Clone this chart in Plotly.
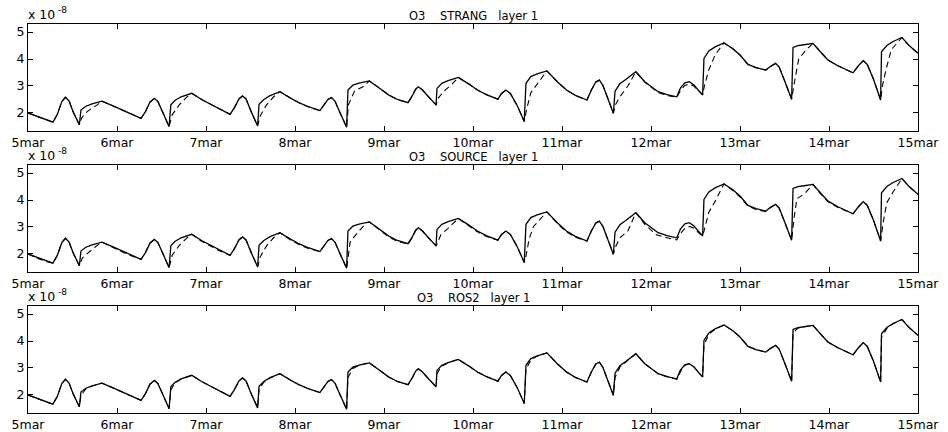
import plotly.graph_objects as go

# ---------------- data ----------------
DAY_TICKS = [5, 6, 7, 8, 9, 10, 11, 12, 13, 14, 15]
DAY_LABELS = ["5mar", "6mar", "7mar", "8mar", "9mar", "10mar", "11mar",
              "12mar", "13mar", "14mar", "15mar"]
Y_TICKS = [2, 3, 4, 5]
Y_LABELS = ["2", "3", "4", "5"]
PANEL_TITLES = ["O3\u00a0\u00a0\u00a0\u00a0STRANG\u00a0\u00a0\u00a0layer 1",
                "O3\u00a0\u00a0\u00a0\u00a0SOURCE\u00a0\u00a0\u00a0layer 1",
                "O3\u00a0\u00a0\u00a0\u00a0ROS2\u00a0\u00a0\u00a0layer 1"]
SCALE_BASE = "x 10"
SCALE_EXP = "-8"

# reference solution (solid line, same in all panels), units 1e-8
REF_T = [5.00, 5.10, 5.20, 5.28, 5.33, 5.38, 5.42, 5.46, 5.51, 5.577,
         5.595, 5.65, 5.72, 5.83, 5.95, 6.05, 6.15, 6.27, 6.32, 6.37,
         6.42, 6.46, 6.52, 6.585, 6.605, 6.65, 6.72, 6.84, 6.95, 7.05,
         7.15, 7.27, 7.32, 7.37, 7.41, 7.45, 7.51, 7.58, 7.596, 7.65,
         7.72, 7.83, 7.95, 8.05, 8.15, 8.28, 8.33, 8.37, 8.41, 8.45,
         8.51, 8.58, 8.595, 8.65, 8.72, 8.835, 8.95, 9.05, 9.15, 9.27,
         9.32, 9.355, 9.385, 9.43, 9.50, 9.585, 9.595, 9.65, 9.72, 9.835,
         9.95, 10.05, 10.15, 10.28, 10.32, 10.37, 10.42, 10.50, 10.576, 10.595,
         10.65, 10.72, 10.83, 10.95, 11.05, 11.15, 11.28, 11.33, 11.38, 11.42,
         11.46, 11.52, 11.577, 11.596, 11.65, 11.72, 11.83, 11.93, 12.08, 12.18,
         12.29, 12.33, 12.38, 12.43, 12.48, 12.53, 12.58, 12.595, 12.65, 12.72,
         12.82, 12.92, 13.00, 13.09, 13.18, 13.29, 13.34, 13.40, 13.44, 13.50,
         13.58, 13.596, 13.65, 13.72, 13.82, 13.90, 13.99, 14.10, 14.27, 14.33,
         14.385, 14.43, 14.50, 14.58, 14.59, 14.65, 14.72, 14.82, 14.90, 15.00]
REF_V = [2.00, 1.87, 1.75, 1.66, 1.95, 2.42, 2.58, 2.45, 2.02, 1.56,
         2.11, 2.25, 2.34, 2.44, 2.27, 2.12, 1.97, 1.80, 2.05, 2.40,
         2.54, 2.42, 1.98, 1.49, 2.30, 2.46, 2.60, 2.73, 2.50, 2.32,
         2.15, 1.95, 2.20, 2.52, 2.63, 2.52, 2.03, 1.52, 2.32, 2.50,
         2.64, 2.79, 2.55, 2.37, 2.23, 2.09, 2.32, 2.50, 2.57, 2.43,
         1.98, 1.47, 2.85, 3.03, 3.11, 3.19, 2.92, 2.67, 2.50, 2.38,
         2.65, 2.88, 2.97, 2.86, 2.60, 2.30, 2.91, 3.10, 3.20, 3.32,
         3.08, 2.85, 2.68, 2.51, 2.72, 2.85, 2.72, 2.25, 1.68, 3.10,
         3.35, 3.45, 3.56, 3.15, 2.85, 2.65, 2.48, 2.85, 3.15, 3.22,
         3.02, 2.50, 1.99, 2.81, 3.08, 3.25, 3.53, 3.16, 2.79, 2.68,
         2.60, 2.92, 3.12, 3.16, 3.05, 2.85, 2.67, 4.02, 4.30, 4.45,
         4.60, 4.38, 4.15, 3.80, 3.68, 3.59, 3.72, 3.84, 3.70, 3.20,
         2.51, 4.43, 4.50, 4.53, 4.58, 4.28, 3.96, 3.75, 3.49, 3.75,
         3.94, 3.80, 3.25, 2.48, 4.27, 4.50, 4.65, 4.80, 4.50, 4.21]

# STRANG splitting (dashed, panel 1)
STRANG_T = [5.00, 5.10, 5.20, 5.28, 5.33, 5.38, 5.42, 5.46, 5.51, 5.577,
            5.60, 5.64, 5.70, 5.77, 5.83, 5.95, 6.05, 6.15, 6.27, 6.32,
            6.37, 6.42, 6.46, 6.52, 6.585, 6.62, 6.70, 6.78, 6.84, 6.95,
            7.05, 7.15, 7.27, 7.32, 7.37, 7.41, 7.45, 7.51, 7.58, 7.61,
            7.68, 7.76, 7.83, 7.95, 8.05, 8.15, 8.28, 8.33, 8.37, 8.41,
            8.45, 8.51, 8.58, 8.60, 8.67, 8.77, 8.835, 8.95, 9.05, 9.15,
            9.27, 9.32, 9.355, 9.385, 9.43, 9.50, 9.585, 9.61, 9.67, 9.76,
            9.835, 9.95, 10.05, 10.15, 10.28, 10.32, 10.37, 10.42, 10.50, 10.576,
            10.60, 10.65, 10.74, 10.83, 10.95, 11.05, 11.15, 11.28, 11.33, 11.38,
            11.42, 11.46, 11.52, 11.577, 11.60, 11.65, 11.74, 11.83, 11.93, 12.08,
            12.18, 12.29, 12.33, 12.38, 12.43, 12.48, 12.53, 12.58, 12.60, 12.65,
            12.72, 12.82, 12.92, 13.00, 13.09, 13.18, 13.29, 13.34, 13.40, 13.44,
            13.50, 13.58, 13.62, 13.66, 13.74, 13.82, 13.90, 13.99, 14.10, 14.27,
            14.33, 14.385, 14.43, 14.50, 14.58, 14.60, 14.64, 14.70, 14.82, 14.90,
            15.00]
STRANG_V = [2.00, 1.87, 1.75, 1.66, 1.95, 2.42, 2.58, 2.45, 2.02, 1.56,
            1.80, 1.98, 2.14, 2.28, 2.44, 2.27, 2.12, 1.97, 1.80, 2.05,
            2.40, 2.54, 2.42, 1.98, 1.49, 1.93, 2.30, 2.58, 2.73, 2.50,
            2.32, 2.15, 1.95, 2.20, 2.52, 2.63, 2.52, 2.03, 1.52, 1.90,
            2.30, 2.60, 2.79, 2.55, 2.37, 2.23, 2.09, 2.32, 2.50, 2.57,
            2.43, 1.98, 1.47, 2.30, 2.82, 2.98, 3.19, 2.92, 2.67, 2.50,
            2.38, 2.65, 2.88, 2.97, 2.86, 2.60, 2.30, 2.55, 2.80, 3.05,
            3.32, 3.08, 2.85, 2.68, 2.51, 2.72, 2.85, 2.72, 2.25, 1.68,
            2.10, 2.75, 3.15, 3.56, 3.15, 2.85, 2.65, 2.48, 2.85, 3.15,
            3.22, 3.02, 2.50, 1.99, 2.30, 2.60, 3.00, 3.53, 3.14, 2.76,
            2.65, 2.58, 2.82, 3.02, 3.07, 3.00, 2.83, 2.67, 3.00, 3.60,
            4.15, 4.60, 4.38, 4.15, 3.80, 3.68, 3.59, 3.72, 3.84, 3.70,
            3.20, 2.51, 3.30, 4.00, 4.33, 4.58, 4.28, 3.96, 3.75, 3.49,
            3.75, 3.94, 3.80, 3.25, 2.48, 3.00, 3.60, 4.35, 4.80, 4.50,
            4.21]

# SOURCE splitting (dashed, panel 2)
SOURCE_T = [5.00, 5.10, 5.20, 5.28, 5.33, 5.38, 5.42, 5.46, 5.51, 5.577,
            5.61, 5.68, 5.75, 5.83, 5.95, 6.05, 6.15, 6.27, 6.32, 6.37,
            6.42, 6.46, 6.52, 6.585, 6.62, 6.70, 6.78, 6.84, 6.95, 7.05,
            7.15, 7.27, 7.32, 7.37, 7.41, 7.45, 7.51, 7.58, 7.61, 7.68,
            7.76, 7.83, 7.95, 8.05, 8.15, 8.28, 8.33, 8.37, 8.41, 8.45,
            8.51, 8.58, 8.62, 8.70, 8.80, 8.835, 8.95, 9.05, 9.15, 9.27,
            9.32, 9.355, 9.385, 9.43, 9.50, 9.585, 9.60, 9.64, 9.72, 9.835,
            9.95, 10.05, 10.15, 10.28, 10.32, 10.37, 10.42, 10.50, 10.576, 10.60,
            10.63, 10.68, 10.78, 10.83, 10.95, 11.05, 11.15, 11.28, 11.33, 11.38,
            11.42, 11.46, 11.52, 11.577, 11.60, 11.65, 11.74, 11.83, 11.93, 12.06,
            12.18, 12.29, 12.33, 12.38, 12.43, 12.48, 12.53, 12.58, 12.60, 12.65,
            12.72, 12.79, 12.82, 12.92, 13.00, 13.09, 13.18, 13.29, 13.34, 13.40,
            13.44, 13.50, 13.58, 13.61, 13.64, 13.72, 13.82, 13.90, 13.99, 14.10,
            14.27, 14.33, 14.385, 14.43, 14.50, 14.58, 14.61, 14.65, 14.72, 14.82,
            14.90, 15.00]
SOURCE_V = [2.00, 1.84, 1.72, 1.66, 1.95, 2.42, 2.58, 2.45, 2.02, 1.56,
            1.85, 2.05, 2.25, 2.44, 2.24, 2.09, 1.94, 1.80, 2.05, 2.40,
            2.54, 2.42, 1.98, 1.49, 1.95, 2.32, 2.58, 2.73, 2.47, 2.29,
            2.12, 1.95, 2.20, 2.52, 2.63, 2.52, 2.03, 1.52, 1.90, 2.30,
            2.60, 2.79, 2.52, 2.34, 2.20, 2.09, 2.32, 2.50, 2.57, 2.43,
            1.98, 1.47, 2.45, 2.78, 3.14, 3.19, 2.89, 2.64, 2.47, 2.36,
            2.62, 2.86, 2.97, 2.86, 2.60, 2.30, 2.40, 2.72, 2.95, 3.32,
            3.05, 2.82, 2.65, 2.51, 2.72, 2.85, 2.72, 2.25, 1.68, 2.00,
            2.55, 3.02, 3.38, 3.56, 3.12, 2.82, 2.62, 2.48, 2.85, 3.15,
            3.22, 3.02, 2.50, 1.99, 2.25, 2.60, 2.85, 3.53, 3.10, 2.71,
            2.60, 2.52, 2.75, 2.95, 3.02, 2.96, 2.80, 2.67, 2.90, 3.55,
            3.95, 4.38, 4.60, 4.35, 4.12, 3.77, 3.65, 3.57, 3.72, 3.84,
            3.70, 3.20, 2.51, 3.40, 4.05, 4.22, 4.58, 4.25, 3.93, 3.72,
            3.49, 3.75, 3.94, 3.80, 3.25, 2.48, 3.20, 3.90, 4.30, 4.80,
            4.50, 4.21]

# ROS2 (dashed, panel 3)
ROS2_T = REF_T
ROS2_V = [2.00, 1.86, 1.74, 1.66, 1.95, 2.42, 2.58, 2.45, 2.02, 1.56,
          1.98, 2.22, 2.33, 2.44, 2.27, 2.12, 1.97, 1.80, 2.05, 2.40,
          2.54, 2.42, 1.98, 1.49, 2.18, 2.43, 2.59, 2.73, 2.50, 2.32,
          2.15, 1.95, 2.20, 2.52, 2.63, 2.52, 2.03, 1.52, 2.22, 2.47,
          2.63, 2.79, 2.55, 2.37, 2.23, 2.09, 2.32, 2.50, 2.57, 2.43,
          1.98, 1.47, 2.65, 2.98, 3.10, 3.19, 2.92, 2.67, 2.50, 2.38,
          2.65, 2.88, 2.97, 2.86, 2.60, 2.30, 2.80, 3.07, 3.19, 3.32,
          3.08, 2.85, 2.68, 2.51, 2.72, 2.85, 2.72, 2.25, 1.68, 2.95,
          3.30, 3.44, 3.56, 3.15, 2.85, 2.65, 2.48, 2.85, 3.15, 3.22,
          3.02, 2.50, 1.99, 2.65, 3.03, 3.23, 3.53, 3.16, 2.79, 2.68,
          2.58, 2.85, 3.10, 3.16, 3.05, 2.85, 2.67, 3.85, 4.26, 4.44,
          4.60, 4.38, 4.15, 3.80, 3.68, 3.59, 3.72, 3.84, 3.70, 3.20,
          2.51, 4.30, 4.48, 4.53, 4.58, 4.28, 3.96, 3.75, 3.49, 3.75,
          3.94, 3.80, 3.25, 2.48, 4.15, 4.47, 4.64, 4.80, 4.50, 4.21]

DASHED = [(STRANG_T, STRANG_V), (SOURCE_T, SOURCE_V), (ROS2_T, ROS2_V)]

# ---------------- layout geometry ----------------
W, H = 948, 432
X0, X1 = 28, 918
PANEL_TOPS = [24, 165, 306]
PANEL_H = 107
FONT = "DejaVu Sans, Liberation Sans, Arial, sans-serif"

fig = go.Figure()
annotations = []
for i in range(3):
    n = "" if i == 0 else str(i + 1)
    xa, ya = "x" + n, "y" + n
    fig.add_trace(go.Scatter(x=REF_T, y=REF_V, mode="lines", xaxis=xa, yaxis=ya,
                             line=dict(color="black", width=1.3), showlegend=False,
                             hoverinfo="skip"))
    dt, dv = DASHED[i]
    fig.add_trace(go.Scatter(x=dt, y=dv, mode="lines", xaxis=xa, yaxis=ya,
                             line=dict(color="black", width=1.1, dash="6px,4px"),
                             showlegend=False, hoverinfo="skip"))
    top = PANEL_TOPS[i]
    bot = top + PANEL_H
    axcommon = dict(showline=True, linecolor="black", linewidth=1, mirror="allticks",
                    ticks="inside", ticklen=5, tickcolor="black", tickwidth=1,
                    showgrid=False, zeroline=False, automargin=False,
                    tickfont=dict(family=FONT, size=12.5, color="black"))
    fig.update_layout(**{
        "xaxis" + n: dict(domain=[X0 / W, X1 / W], range=[5, 15],
                          tickvals=DAY_TICKS, ticktext=DAY_LABELS,
                          anchor=ya, **axcommon),
        "yaxis" + n: dict(domain=[1 - bot / H, 1 - top / H], range=[1.33, 5.30],
                          tickvals=Y_TICKS, ticktext=Y_LABELS,
                          anchor=xa, **axcommon),
    })
    annotations.append(dict(text=PANEL_TITLES[i], xref="paper", yref="paper",
                            x=(X0 + X1) / 2 / W, y=1 - (top - 8.5) / H,
                            xanchor="center", yanchor="middle", showarrow=False,
                            borderpad=0,
                            font=dict(family=FONT, size=11.5, color="black")))
    annotations.append(dict(text=SCALE_BASE, xref="paper", yref="paper",
                            x=(X0 - 1) / W, y=1 - (top - 1) / H,
                            xanchor="left", yanchor="bottom", showarrow=False,
                            borderpad=0,
                            font=dict(family=FONT, size=12.5, color="black")))
    annotations.append(dict(text=SCALE_EXP, xref="paper", yref="paper",
                            x=(X0 + 29) / W, y=1 - (top - 8) / H,
                            xanchor="left", yanchor="bottom", showarrow=False,
                            borderpad=0,
                            font=dict(family=FONT, size=9, color="black")))

fig.update_layout(width=W, height=H, margin=dict(l=0, r=0, t=0, b=0),
                  paper_bgcolor="white", plot_bgcolor="white",
                  annotations=annotations)

fig.write_html("out.html")
